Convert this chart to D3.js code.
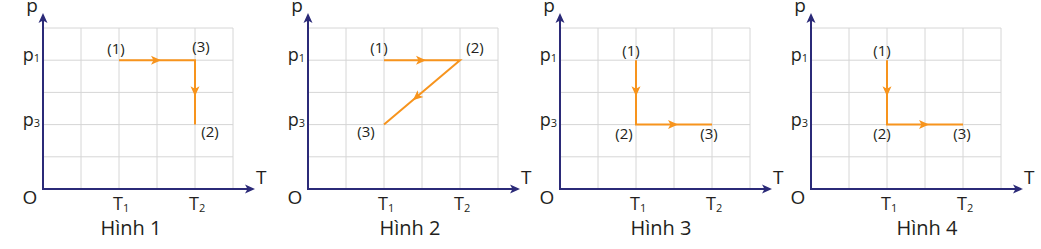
<!DOCTYPE html>
<html>
<head>
<meta charset="utf-8">
<script src="https://cdn.jsdelivr.net/npm/d3@7"></script>
<style>
  body { margin: 0; background: #fff; }
  text { font-family: "Open Sans", sans-serif; fill: #231f20; }
</style>
</head>
<body>
<div id="viz"></div>
<script>
// data
const captions = ['Hình 1', 'Hình 2', 'Hình 3', 'Hình 4'];
const tValues = [2, 4];          // T1, T2 in grid units
const tSubs = ['1', '2'];
const pValues = [4, 2];          // p1, p3 in grid units
const pSubs = ['1', '3'];
// each process: list of states [T, p, label]
const processes = [
  [[2, 4, '(1)'], [4, 4, '(3)'], [4, 2, '(2)']],
  [[2, 4, '(1)'], [4, 4, '(2)'], [2, 2, '(3)']],
  [[2, 4, '(1)'], [2, 2, '(2)'], [4, 2, '(3)']],
  [[2, 4, '(1)'], [2, 2, '(2)'], [4, 2, '(3)']]
];

// layout
const width = 1041;
const height = 249;
const panelX = [43, 308, 560, 811];   // x of the p axis for each panel
const captionX = [131, 410, 661, 927];
const originY = 189;
const gridTop = 28;
const gridW = 190;
const axisColor = '#2b2a78';
const lineColor = '#f7941d';
const gridColor = '#d6d6d6';
// label offsets from their state point (dx to centre, dy to baseline)
const labelShift = [
  [[-3, -6], [6, -8], [15, 12]],
  [[-5, -7], [15, -7], [-18, 12]],
  [[-5, -4], [-12, 14], [-3, 14]],
  [[-5, -4], [-5, 14], [-1, 14]]
];

const svg = d3.select('#viz')
  .append('svg')
    .attr('width', width)
    .attr('height', height);

const x = d3.scaleLinear().domain([0, 5]).range([0, gridW]);
const y = d3.scaleLinear().domain([0, 5]).range([originY, gridTop]);

const arrowPath = 'M0,0 L-10,-4.5 L-7.5,0 L-10,4.5 Z';

processes.forEach((proc, i) => {
  const g = svg.append('g').attr('transform', `translate(${panelX[i]},0)`);

  // grid
  g.append('g')
    .selectAll('line')
    .data(d3.range(1, 6))
    .join('line')
      .attr('x1', d => x(d)).attr('x2', d => x(d))
      .attr('y1', y(0)).attr('y2', y(5))
      .attr('stroke', gridColor);
  g.append('g')
    .selectAll('line')
    .data(d3.range(1, 6))
    .join('line')
      .attr('x1', x(0)).attr('x2', x(5))
      .attr('y1', d => y(d)).attr('y2', d => y(d))
      .attr('stroke', gridColor);

  // axes with arrowheads
  const xEnd = x(5) + 22;
  const yEnd = 13;
  g.append('line')
    .attr('x1', 0).attr('y1', originY).attr('x2', xEnd - 4).attr('y2', originY)
    .attr('stroke', axisColor).attr('stroke-width', 2);
  g.append('line')
    .attr('x1', 0).attr('y1', originY + 1).attr('x2', 0).attr('y2', yEnd + 4)
    .attr('stroke', axisColor).attr('stroke-width', 2);
  g.append('path')
    .attr('d', arrowPath)
    .attr('transform', `translate(${xEnd},${originY})`)
    .attr('fill', axisColor);
  g.append('path')
    .attr('d', arrowPath)
    .attr('transform', `translate(0,${yEnd}) rotate(-90)`)
    .attr('fill', axisColor);

  // axis names
  g.append('text').attr('x', xEnd + 1).attr('y', 184).attr('font-size', 19).text('T');
  g.append('text').attr('x', -11).attr('y', 12).attr('text-anchor', 'middle').attr('font-size', 19).text('p');
  g.append('text').attr('x', -13).attr('y', 204).attr('text-anchor', 'middle').attr('font-size', 19).text('O');

  // tick labels
  const pt = g.append('g').selectAll('text')
    .data(pValues)
    .join('text')
      .attr('x', -3)
      .attr('y', d => y(d) + 1)
      .attr('text-anchor', 'end')
      .attr('font-size', 18)
      .text('p');
  pt.append('tspan').attr('font-size', 11).attr('dy', 1).text((d, k) => pSubs[k]);

  const tt = g.append('g').selectAll('text')
    .data(tValues)
    .join('text')
      .attr('x', d => x(d) - 6)
      .attr('y', 210)
      .attr('font-size', 18)
      .text('T');
  tt.append('tspan').attr('font-size', 11).attr('dy', 2).text((d, k) => tSubs[k]);

  // process line
  const line = d3.line().x(d => x(d[0])).y(d => y(d[1]));
  g.append('path')
    .attr('d', line(proc))
    .attr('fill', 'none')
    .attr('stroke', lineColor)
    .attr('stroke-width', 2);

  // direction arrows on each segment
  d3.pairs(proc).forEach(([a, b]) => {
    const x0 = x(a[0]), y0 = y(a[1]), x1 = x(b[0]), y1 = y(b[1]);
    const diag = x0 !== x1 && y0 !== y1;
    const t = diag ? 0.62 : (x0 === x1 ? 0.56 : 0.5);
    const ax = x0 + (x1 - x0) * t, ay = y0 + (y1 - y0) * t;
    const ang = Math.atan2(y1 - y0, x1 - x0) * 180 / Math.PI;
    g.append('path')
      .attr('d', arrowPath)
      .attr('transform', `translate(${ax + (x1 - x0 ? 4 * Math.sign(x1 - x0) : 0) * (diag ? 0 : 1)},${ay}) rotate(${ang})`)
      .attr('fill', lineColor);
  });

  // state labels
  g.append('g').selectAll('text')
    .data(proc)
    .join('text')
      .attr('x', (d, k) => x(d[0]) + labelShift[i][k][0])
      .attr('y', (d, k) => y(d[1]) + labelShift[i][k][1])
      .attr('text-anchor', 'middle')
      .attr('font-size', 15)
      .text(d => d[2]);

  // caption
  svg.append('text')
    .attr('x', captionX[i])
    .attr('y', 235)
    .attr('text-anchor', 'middle')
    .attr('font-size', 20)
    .text(captions[i]);
});
</script>
</body>
</html>
